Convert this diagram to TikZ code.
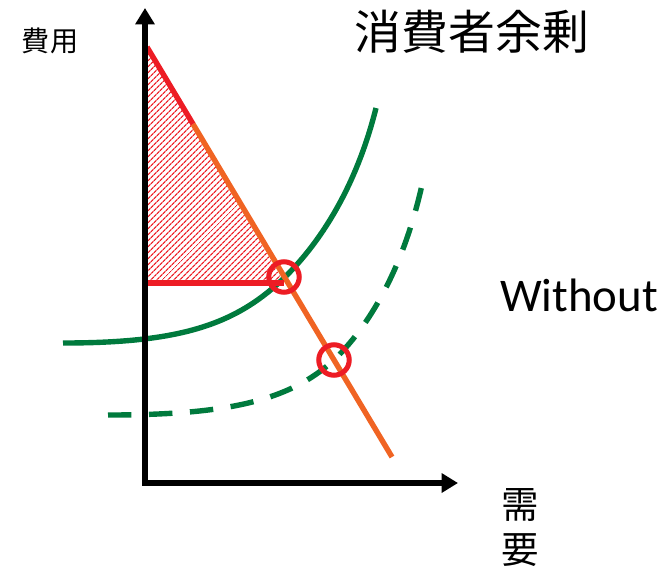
\documentclass[tikz,border=0pt]{standalone}
\usepackage{fontspec}
\newfontfamily\cjk{Noto Sans CJK JP}
\newfontfamily\latinsans{Carlito}
\usetikzlibrary{arrows.meta,patterns.meta}
\definecolor{curvegreen}{RGB}{0,122,61}
\definecolor{demandorange}{RGB}{240,100,35}
\definecolor{surplusred}{RGB}{237,28,36}
\tikzset{
  axisline/.style={line width=5pt,-{Triangle[length=14pt,width=16pt]}},
  supplyline/.style={curvegreen,line width=4.6pt},
  eqmark/.style={circle,draw=surplusred,line width=4.3pt,minimum size=26pt,inner sep=0pt},
  jlabel/.style={font=\cjk,inner sep=0pt}
}

\begin{document}
\begin{tikzpicture}[x=0.03cm,y=-0.03cm]
    \useasboundingbox (0,0) rectangle (669,574);
    \coordinate (o) at (145,483);
    \coordinate (ytop) at (145,8);
    \coordinate (xend) at (458,483);
    \coordinate (dtop) at (147,47);
    \coordinate (dbend) at (193,124);
    \coordinate (dend) at (392,457);
    \coordinate (pbase) at (147,283);
    \coordinate (pcorner) at (284,283);
    \coordinate (s1start) at (63,343);
    \coordinate (s1end) at (376,108);
    \coordinate (s2start) at (108,415);
    \coordinate (s2end) at (422,185);

    \fill[pattern={Lines[angle=45,distance=4pt,line width=1.4pt]},pattern color=surplusred]
      (dtop) -- (pbase) -- (pcorner) -- cycle;

    \draw[supplyline] (s1start) .. controls (180,343) and (235,325) .. (284,278)
      .. controls (325,238) and (358,180) .. (s1end);
    \draw[supplyline,dash pattern=on 20pt off 15pt]
      (s2start) .. controls (230,415) and (290,400) .. (334,360)
      .. controls (375,320) and (405,260) .. (s2end);

    \draw[demandorange,line width=4.6pt] (dbend) -- (dend);
    \draw[surplusred,line width=4.6pt] (dtop) -- (dbend);
    \draw[surplusred,line width=4.6pt] (pbase) -- (pcorner);

    \node[eqmark] (eqa) at (284,277) {};
    \node[eqmark] (eqb) at (334,360) {};

    \draw[axisline,line cap=rect] (o) -- (ytop);
    \draw[axisline] (o) -- (xend);

    \node[jlabel,font=\cjk\fontsize{24}{26}\selectfont] (ylab) at (50,41) {費用};
    \node[jlabel,font=\cjk\fontsize{40}{44}\selectfont] (title) at (472,32) {消費者余剰};
    \node[inner sep=0pt,font=\latinsans\fontsize{40}{44}\selectfont] (without) at (579,295) {Without};
    \node[jlabel,font=\cjk\fontsize{32}{34}\selectfont] (xlaba) at (520,505) {需};
    \node[jlabel,font=\cjk\fontsize{32}{34}\selectfont] (xlabb) at (520,550) {要};
\end{tikzpicture}
\end{document}
